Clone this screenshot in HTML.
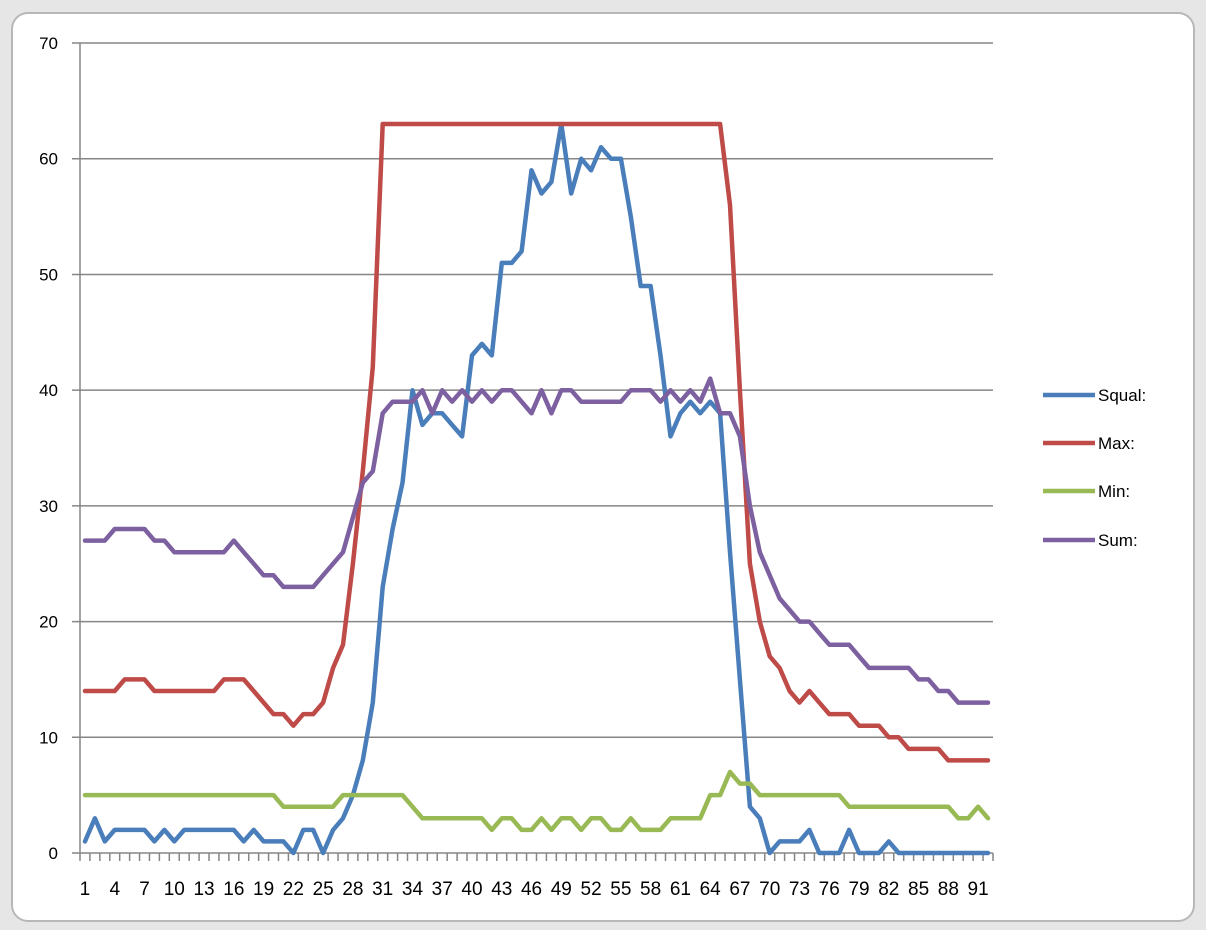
<!DOCTYPE html>
<html><head><meta charset="utf-8"><style>
html,body{margin:0;padding:0;background:#fff}
svg{display:block;font-family:"Liberation Sans",sans-serif}
</style></head><body>
<svg id="s" width="1206" height="930" viewBox="0 0 1206 930" xmlns="http://www.w3.org/2000/svg">
<rect x="0" y="0" width="1206" height="930" fill="#e6e6e6"/>
<rect x="12" y="13" width="1182" height="908" rx="16" fill="#ffffff" stroke="#b8b8b8" stroke-width="2"/>
<g id="grid" stroke="#868686" stroke-width="1.5"></g>
<g id="lab" font-size="17" fill="#000"></g>
<g id="xlab" font-size="19" fill="#000"></g>
<g id="series" fill="none" stroke-width="4.5" stroke-linejoin="round" stroke-linecap="round"></g>
<g font-size="17" fill="#000">
<line x1="1043" y1="395" x2="1095" y2="395" stroke="#4a7ebb" stroke-width="4.5"/><text x="1098" y="401">Squal:</text>
<line x1="1043" y1="443" x2="1095" y2="443" stroke="#be4b48" stroke-width="4.5"/><text x="1098" y="449">Max:</text>
<line x1="1043" y1="491" x2="1095" y2="491" stroke="#98b954" stroke-width="4.5"/><text x="1098" y="497">Min:</text>
<line x1="1043" y1="540" x2="1095" y2="540" stroke="#7d60a0" stroke-width="4.5"/><text x="1098" y="546">Sum:</text>
</g>
</svg>
<script>
var NS="http://www.w3.org/2000/svg";
function el(p,t,a,txt){var e=document.createElementNS(NS,t);for(var k in a)e.setAttribute(k,a[k]);if(txt!=null)e.textContent=txt;p.appendChild(e);return e;}
var g=document.getElementById('grid'),lab=document.getElementById('lab'),xlab=document.getElementById('xlab'),ser=document.getElementById('series');
var W=913/92;
function Y(v){return 853-v*11.571;}
function X(i){return 80+(i-0.5)*W;}
for(var v=0;v<=70;v+=10){el(g,'line',{x1:72,y1:Y(v),x2:993,y2:Y(v)});el(lab,'text',{x:58,y:Y(v)+6,'text-anchor':'end'},String(v));}
el(g,'line',{x1:80,y1:43,x2:80,y2:853});
for(var i=0;i<=92;i++){var x=80+i*W;el(g,'line',{x1:x,y1:853,x2:x,y2:861});}
for(var i=1;i<=91;i+=3){el(xlab,'text',{x:X(i),y:895,'text-anchor':'middle'},String(i));}
function rep(v,n){var a=[];for(var k=0;k<n;k++)a.push(v);return a;}
var squal=[1,3,1,2,2,2,2,1,2,1,2,2,2,2,2,2,1,2,1,1,1,0,2,2,0,2,3,5,8,13,23,28,32,40,37,38,38,37,36,43,44,43,51,51,52,59,57,58,63,57,60,59,61,60,60,55,49,49,43,36,38,39,38,39,38,26,15,4,3,0,1,1,1,2,0,0,0,2,0,0,0,1].concat(rep(0,10));
var max=[].concat(rep(14,4),rep(15,3),rep(14,7),rep(15,3),[14,13,12,12,11,12,12,13,16,18,25,33,42],rep(63,35),[56,40,25,20,17,16,14,13,14,13,12,12,12,11,11,11,10,10,9,9,9,9],rep(8,5));
var min=[].concat(rep(5,20),rep(4,6),rep(5,7),[4],rep(3,7),[2,3,3,2,2,3,2,3,3,2,3,3,2,2,3,2,2,2,3,3,3,3,5,5,7,6,6],rep(5,9),rep(4,11),[3,3,4,3]);
var sum=[].concat(rep(27,3),rep(28,4),rep(27,2),rep(26,6),[27,26,25,24,24],rep(23,4),[24,25,26,29,32,33,38,39,39,39,40,38,40,39,40,39,40,39,40,40,39,38,40,38,40,40],rep(39,5),rep(40,3),[39,40,39,40,39,41,38,38,36,30,26,24,22,21,20,20,19,18,18,18,17],rep(16,5),[15,15,14,14],rep(13,4));
function pl(d,c){var p=[];for(var i=0;i<d.length;i++)p.push(X(i+1).toFixed(1)+','+Y(d[i]).toFixed(1));el(ser,'polyline',{points:p.join(' '),stroke:c});}
pl(squal,'#4a7ebb');pl(max,'#be4b48');pl(min,'#98b954');pl(sum,'#7d60a0');
</script>
</body></html>
